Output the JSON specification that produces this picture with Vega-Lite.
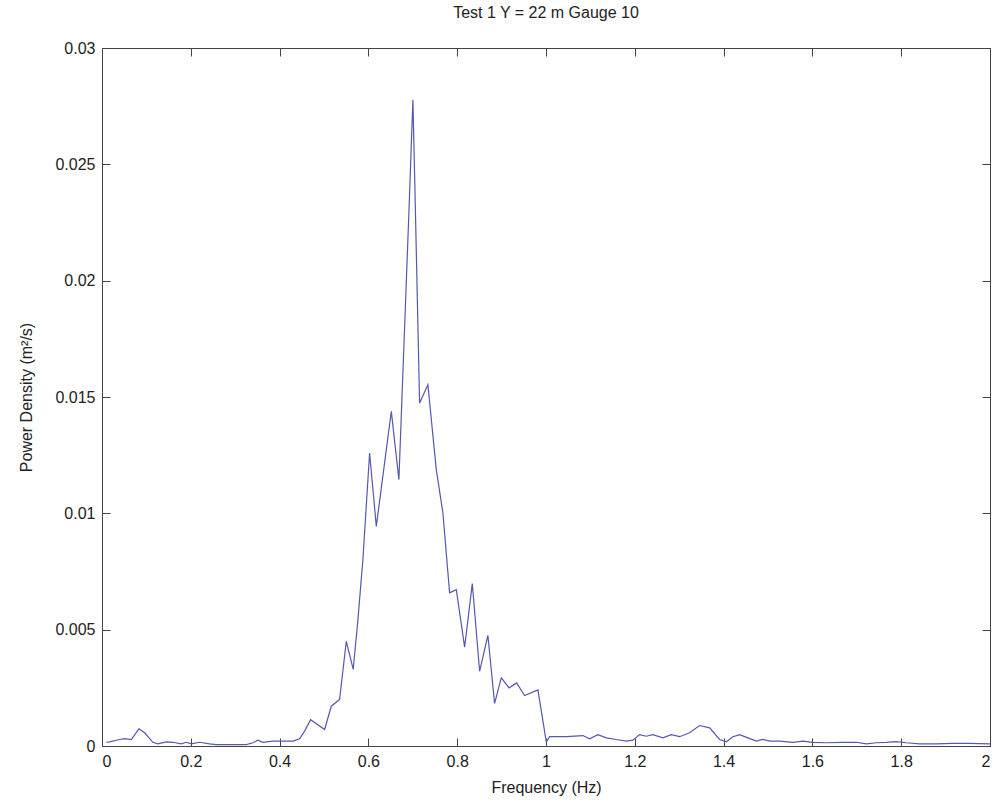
{
  "$schema": "https://vega.github.io/schema/vega-lite/v6.json",
  "width": 888,
  "height": 698,
  "autosize": "none",
  "padding": {"left": 102, "top": 48, "right": 5, "bottom": 58},
  "background": "white",
  "title": {"text": "Test 1 Y = 22 m  Gauge 10", "font": "Liberation Sans", "fontSize": 16, "fontWeight": "normal", "color": "#222", "anchor": "middle", "offset": 19},
  "config": {
    "view": {"stroke": "#444", "strokeWidth": 1},
    "axis": {"labelFont": "Liberation Sans", "titleFont": "Liberation Sans", "labelFontSize": 16, "titleFontSize": 16, "titleFontWeight": "normal", "labelColor": "#222", "titleColor": "#222", "domainColor": "#444", "tickColor": "#444", "grid": false}
  },
  "data": {"values": [
    {"f": 0.0097, "p": 0.00016}, {"f": 0.0171, "p": 0.00018}, {"f": 0.0396, "p": 0.00028}, {"f": 0.0509, "p": 0.00032},
    {"f": 0.066, "p": 0.00028}, {"f": 0.0831, "p": 0.00074}, {"f": 0.096, "p": 0.00057}, {"f": 0.1146, "p": 0.00016},
    {"f": 0.1259, "p": 0.00009}, {"f": 0.1448, "p": 0.00018}, {"f": 0.1597, "p": 0.00016}, {"f": 0.1786, "p": 0.00009},
    {"f": 0.1899, "p": 0.00016}, {"f": 0.2011, "p": 0.00009}, {"f": 0.2198, "p": 0.00016}, {"f": 0.2423, "p": 0.00009},
    {"f": 0.2574, "p": 0.00006}, {"f": 0.2948, "p": 0.00006}, {"f": 0.325, "p": 0.00006}, {"f": 0.3399, "p": 0.00014},
    {"f": 0.3511, "p": 0.00025}, {"f": 0.3624, "p": 0.00016}, {"f": 0.3849, "p": 0.00021}, {"f": 0.4151, "p": 0.00021},
    {"f": 0.43, "p": 0.00021}, {"f": 0.445, "p": 0.00031}, {"f": 0.4563, "p": 0.00064}, {"f": 0.4698, "p": 0.00113},
    {"f": 0.5014, "p": 0.00071}, {"f": 0.5164, "p": 0.00171}, {"f": 0.5351, "p": 0.002}, {"f": 0.5502, "p": 0.0045},
    {"f": 0.5658, "p": 0.00329}, {"f": 0.5764, "p": 0.00543}, {"f": 0.5876, "p": 0.00801}, {"f": 0.6027, "p": 0.01259},
    {"f": 0.6178, "p": 0.00944}, {"f": 0.6516, "p": 0.01438}, {"f": 0.6687, "p": 0.01145}, {"f": 0.6912, "p": 0.02292},
    {"f": 0.7002, "p": 0.02777}, {"f": 0.7052, "p": 0.0236}, {"f": 0.7153, "p": 0.01474}, {"f": 0.734, "p": 0.01553},
    {"f": 0.7529, "p": 0.01188}, {"f": 0.7678, "p": 0.01002}, {"f": 0.7829, "p": 0.00658}, {"f": 0.798, "p": 0.00672},
    {"f": 0.8167, "p": 0.00425}, {"f": 0.834, "p": 0.00698}, {"f": 0.8505, "p": 0.00321}, {"f": 0.8691, "p": 0.00475},
    {"f": 0.8842, "p": 0.00183}, {"f": 0.8993, "p": 0.00293}, {"f": 0.9169, "p": 0.0025}, {"f": 0.9338, "p": 0.00271},
    {"f": 0.9518, "p": 0.00217}, {"f": 0.9818, "p": 0.00241}, {"f": 1.0007, "p": 0.00017}, {"f": 1.0081, "p": 0.0004},
    {"f": 1.0457, "p": 0.0004}, {"f": 1.0831, "p": 0.00045}, {"f": 1.0982, "p": 0.00031}, {"f": 1.1169, "p": 0.00049},
    {"f": 1.1358, "p": 0.00035}, {"f": 1.1583, "p": 0.00028}, {"f": 1.1809, "p": 0.00021}, {"f": 1.1957, "p": 0.00025},
    {"f": 1.2108, "p": 0.00049}, {"f": 1.2259, "p": 0.00042}, {"f": 1.2408, "p": 0.00049}, {"f": 1.2633, "p": 0.00035},
    {"f": 1.2822, "p": 0.00049}, {"f": 1.3009, "p": 0.0004}, {"f": 1.3234, "p": 0.00057}, {"f": 1.3459, "p": 0.00088},
    {"f": 1.3685, "p": 0.00078}, {"f": 1.391, "p": 0.00028}, {"f": 1.4061, "p": 0.00018}, {"f": 1.421, "p": 0.0004},
    {"f": 1.436, "p": 0.00049}, {"f": 1.4547, "p": 0.00035}, {"f": 1.4736, "p": 0.00021}, {"f": 1.4885, "p": 0.00028},
    {"f": 1.5036, "p": 0.00021}, {"f": 1.5261, "p": 0.00021}, {"f": 1.5561, "p": 0.00016}, {"f": 1.5786, "p": 0.00021},
    {"f": 1.6011, "p": 0.00016}, {"f": 1.6313, "p": 0.00014}, {"f": 1.6687, "p": 0.00016}, {"f": 1.6989, "p": 0.00016},
    {"f": 1.7214, "p": 0.00009}, {"f": 1.7439, "p": 0.00014}, {"f": 1.7664, "p": 0.00016}, {"f": 1.7889, "p": 0.00019},
    {"f": 1.8115, "p": 0.00014}, {"f": 1.8414, "p": 0.00009}, {"f": 1.8791, "p": 0.00009}, {"f": 1.9164, "p": 0.00011},
    {"f": 1.9541, "p": 0.00011}, {"f": 2.0, "p": 0.00009}
  ]},
  "layer": [
    {
      "mark": {"type": "line", "color": "#5558b0", "strokeWidth": 1.2, "clip": true},
      "encoding": {
        "x": {"field": "f", "type": "quantitative", "scale": {"domain": [0, 2], "nice": false, "zero": false},
              "axis": {"orient": "bottom", "title": "Frequency (Hz)", "values": [0, 0.2, 0.4, 0.6, 0.8, 1, 1.2, 1.4, 1.6, 1.8, 2], "format": "~g", "tickSize": -8, "labelPadding": 15, "titlePadding": 10}},
        "y": {"field": "p", "type": "quantitative", "scale": {"domain": [0, 0.03], "nice": false},
              "axis": {"orient": "left", "title": "Power Density (m²/s)", "values": [0, 0.005, 0.01, 0.015, 0.02, 0.025, 0.03], "format": "~g", "tickSize": -8, "labelPadding": 15, "titlePadding": 20}}
      }
    },
    {
      "mark": {"type": "line", "strokeOpacity": 0},
      "encoding": {
        "x": {"field": "f", "type": "quantitative", "axis": {"orient": "top", "title": null, "labels": false, "values": [0, 0.2, 0.4, 0.6, 0.8, 1, 1.2, 1.4, 1.6, 1.8, 2], "tickSize": -8}},
        "y": {"field": "p", "type": "quantitative", "axis": {"orient": "right", "title": null, "labels": false, "values": [0, 0.005, 0.01, 0.015, 0.02, 0.025, 0.03], "tickSize": -8}}
      }
    }
  ],
  "resolve": {"axis": {"x": "independent", "y": "independent"}}
}
